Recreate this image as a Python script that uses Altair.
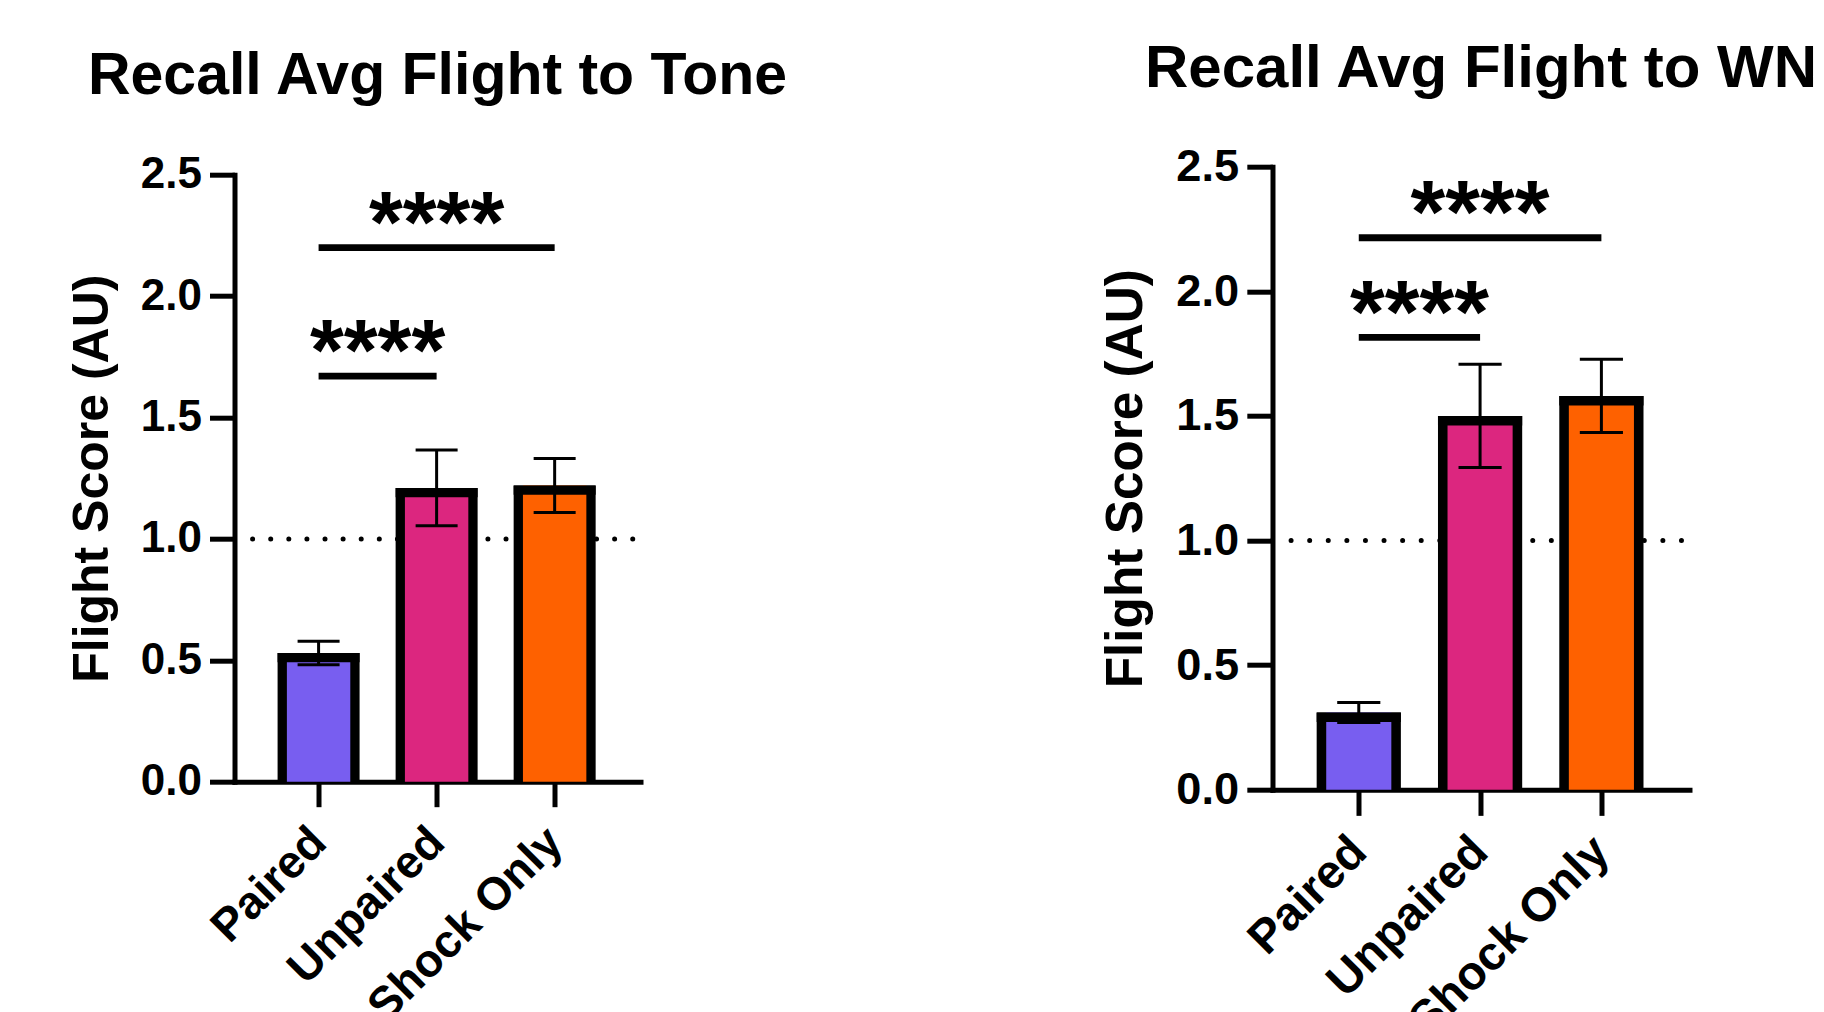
import json
import altair as alt
import pandas as pd

# ---------------- data ----------------
groups = ["Paired", "Unpaired", "Shock Only"]
colors = ["#785EF0", "#DC267F", "#FE6100"]
positions = [0, 1, 2]

tone_title = "Recall Avg Flight to Tone"
tone_mean = [0.53, 1.21, 1.22]
tone_sem = [0.048, 0.156, 0.111]
tone_sig_from = [0, 0]
tone_sig_to = [2, 1]
tone_sig_y = [2.20, 1.67]
tone_sig_label = ["****", "****"]

wn_title = "Recall Avg Flight to WN"
wn_mean = [0.31, 1.50, 1.58]
wn_sem = [0.040, 0.207, 0.147]
wn_sig_from = [0, 0]
wn_sig_to = [2, 1]
wn_sig_y = [2.215, 1.815]
wn_sig_label = ["****", "****"]

chance_level = [1.0]
y_ticks = [0.0, 0.5, 1.0, 1.5, 2.0, 2.5]
y_title = "Flight Score (AU)"

FONT = "Liberation Sans"


def panel(title, means, sems, sfrom, sto, sy, slab, w, h, k, title_size, title_offset):
    bars = pd.DataFrame({"pos": positions, "group": groups, "mean": means, "sem": sems})
    bars["lo"] = bars["mean"] - bars["sem"]
    bars["hi"] = bars["mean"] + bars["sem"]
    sig = pd.DataFrame({"x1": sfrom, "x2": sto, "y": sy, "label": slab})
    sig["xm"] = (sig["x1"] + sig["x2"]) / 2
    ref = pd.DataFrame({"y": chance_level})

    xscale = alt.Scale(domain=[-0.67, 2.685], nice=False, zero=False)
    yscale = alt.Scale(domain=[0, 2.5], nice=False, zero=True)

    xaxis = alt.Axis(
        values=positions,
        labelExpr=json.dumps(groups) + "[datum.value]",
        labelAngle=-45,
        labelAlign="right",
        labelBaseline="middle",
        labelFont=FONT,
        labelFontSize=46 * k,
        labelFontWeight="bold",
        labelColor="black",
        labelPadding=28 * k,
        labelOverlap=False,
        labelFlush=False,
        labelBound=False,
        labelLimit=0,
        tickSize=25 * k,
        tickWidth=5,
        tickColor="black",
        domainWidth=5,
        domainColor="black",
        domainCap="square",
        grid=False,
        title=None,
    )
    yaxis = alt.Axis(
        values=y_ticks,
        format=".1f",
        labelFont=FONT,
        labelFontSize=44 * k,
        labelFontWeight="bold",
        labelColor="black",
        labelPadding=8 * k,
        labelFlush=False,
        labelOverlap=False,
        tickSize=25 * k,
        tickWidth=5,
        tickColor="black",
        domainWidth=5,
        domainColor="black",
        domainCap="square",
        grid=False,
        title=y_title,
        titleFont=FONT,
        titleFontSize=50 * k,
        titleFontWeight="bold",
        titleColor="black",
        titlePadding=23 * k,
    )

    base = alt.Chart(bars)
    X = alt.X("pos:Q", scale=xscale, axis=xaxis)

    dotted = alt.Chart(ref).mark_rule(
        color="black", strokeWidth=5, strokeDash=[0.001, 18.1 * k], strokeCap="round"
    ).encode(
        y=alt.Y("y:Q", scale=yscale, axis=yaxis),
        x=alt.value(0),
        x2=alt.value(w),
    )

    # bar outline (sides), colored fill, and the thick top edge
    outer = base.mark_bar(color="black", width=82 * k, opacity=1).encode(
        x=X, y=alt.Y("mean:Q", scale=yscale, axis=yaxis),
    )
    inner = base.mark_bar(width=(82 - 18.6) * k, opacity=1).encode(
        x=X,
        y=alt.Y("mean:Q", scale=yscale, axis=yaxis),
        color=alt.Color("group:N", scale=alt.Scale(domain=groups, range=colors), legend=None),
    )
    top_edge = base.mark_tick(
        color="black", orient="horizontal", size=82 * k, thickness=9.3 * k,
        yOffset=4.65 * k, opacity=1,
    ).encode(
        x=X, y=alt.Y("mean:Q", scale=yscale, axis=yaxis),
    )
    err = base.mark_rule(color="black", strokeWidth=3, opacity=1).encode(
        x=X,
        y=alt.Y("lo:Q", scale=yscale, axis=yaxis),
        y2="hi:Q",
    )
    cap_lo = base.mark_tick(
        color="black", orient="horizontal", size=42 * k, thickness=3, opacity=1
    ).encode(
        x=X, y=alt.Y("lo:Q", scale=yscale, axis=yaxis),
    )
    cap_hi = base.mark_tick(
        color="black", orient="horizontal", size=42 * k, thickness=3, opacity=1
    ).encode(
        x=X, y=alt.Y("hi:Q", scale=yscale, axis=yaxis),
    )
    sig_rule = alt.Chart(sig).mark_rule(color="black", strokeWidth=6.7 * k).encode(
        x=alt.X("x1:Q", scale=xscale, axis=xaxis),
        x2="x2:Q",
        y=alt.Y("y:Q", scale=yscale, axis=yaxis),
    )
    sig_text = alt.Chart(sig).mark_text(
        font=FONT, fontSize=87 * k, fontWeight="bold", color="black",
        align="center", baseline="alphabetic", dy=4 * k,
    ).encode(
        x=alt.X("xm:Q", scale=xscale, axis=xaxis),
        y=alt.Y("y:Q", scale=yscale, axis=yaxis),
        text="label:N",
    )

    return alt.layer(
        dotted, outer, inner, top_edge, err, cap_lo, cap_hi, sig_rule, sig_text
    ).properties(
        width=w,
        height=h,
        title=alt.Title(
            title, font=FONT, fontSize=title_size, fontWeight="bold", color="black",
            anchor="middle", frame="group", offset=title_offset, baseline="alphabetic",
        ),
    )


left = panel(tone_title, tone_mean, tone_sem, tone_sig_from, tone_sig_to, tone_sig_y,
             tone_sig_label, 406, 607, 1.0, 59, 0)
right = panel(wn_title, wn_mean, wn_sem, wn_sig_from, wn_sig_to, wn_sig_y,
              wn_sig_label, 417, 623, 1.027, 60, -2)

chart = alt.hconcat(left, right, spacing=632, bounds="flush", center=True).properties(
    padding={"left": 66.5, "top": 38.7, "right": 0, "bottom": 0},
    background="white",
).configure_view(stroke=None)

chart.save("out.html", embed_options={"renderer": "svg", "actions": False})
